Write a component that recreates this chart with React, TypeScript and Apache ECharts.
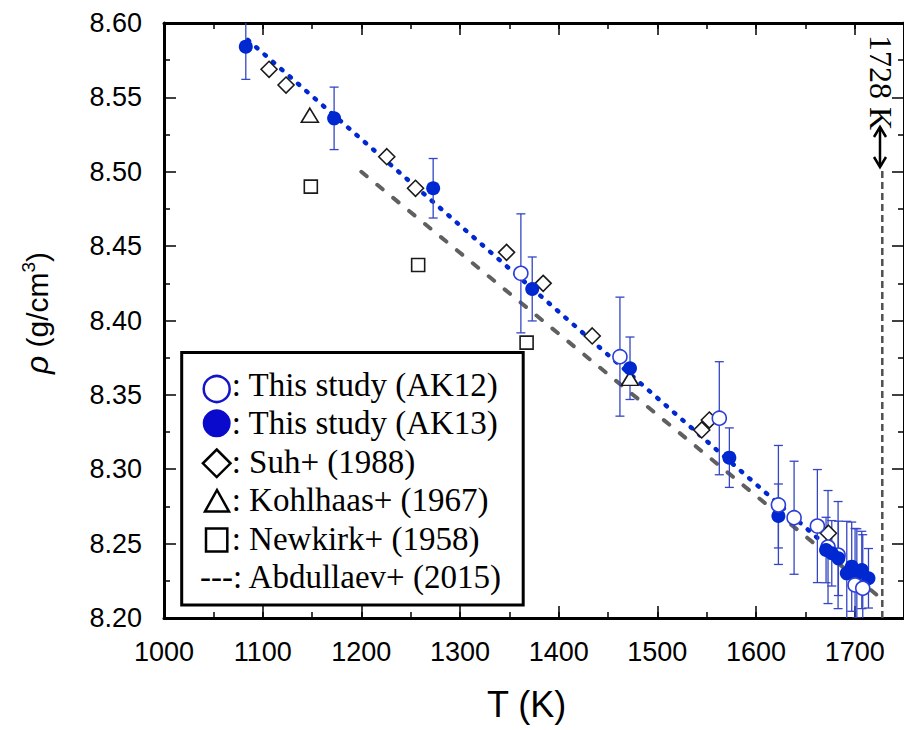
import React, { useEffect, useRef } from 'react';
import * as echarts from 'echarts';

// ---- axis ranges ----
const xMin = 1000;
const xMax = 1750;
const xMajor = 100;
const xMinor = 50;
const yMin = 8.2;
const yMax = 8.6;
const yMajor = 0.05;

// ---- This study (AK12), open circles ----
const ak12T = [1361.7, 1462.1, 1562.8, 1622.7, 1638.6, 1662.2, 1673.0, 1683.2, 1700.4, 1708.2];
const ak12Rho = [8.4317, 8.3757, 8.3343, 8.2760, 8.2674, 8.2618, 8.2477, 8.2423, 8.2222, 8.2200];
const ak12Err = [0.040, 0.040, 0.038, 0.040, 0.038, 0.038, 0.038, 0.036, 0.038, 0.036];
// points of AK12 that lie underneath AK13 markers in the picture
const ak12Behind = [6, 7];

// ---- This study (AK13), filled circles ----
const ak13T = [1082.9, 1172.4, 1272.8, 1373.2, 1472.3, 1573.0, 1622.7, 1671.0, 1676.8, 1683.5, 1692.0, 1697.0, 1702.2, 1707.2, 1714.0];
const ak13Rho = [8.5841, 8.5359, 8.4889, 8.4212, 8.3679, 8.3078, 8.2686, 8.2457, 8.2435, 8.2401, 8.2300, 8.2345, 8.2300, 8.2323, 8.2267];
const ak13Err = [0.022, 0.021, 0.020, 0.0215, 0.021, 0.020, 0.0215, 0.022, 0.022, 0.025, 0.035, 0.030, 0.030, 0.026, 0.020];

// ---- Suh+ (1988), diamonds ----
const suhT = [1106.5, 1123.7, 1225.8, 1254.9, 1347.2, 1384.3, 1434.0, 1545.0, 1552.7, 1673.4];
const suhRho = [8.5689, 8.5583, 8.5101, 8.4889, 8.4458, 8.4250, 8.3896, 8.3264, 8.3331, 8.2570];

// ---- Kohlhaas+ (1967), triangles ----
const kohlT = [1147.8, 1472.3];
const kohlRho = [8.538, 8.3611];

// ---- Newkirk+ (1958), squares ----
const newkT = [1148.8, 1257.6, 1367.5];
const newkRho = [8.490, 8.4373, 8.3851];

// ---- fit line of this study (dotted) ----
const fitT = [1085, 1718];
const fitRho = [8.5886, 8.2215];

// ---- Abdullaev+ (2015), dashed ----
const abdT = [1200, 1728];
const abdRho = [8.500, 8.2125];

// ---- melting point marker ----
const meltT = 1728;
const meltRho = [8.2, 8.501];

const legendLabels = [
  ': This study (AK12)',
  ': This study (AK13)',
  ': Suh+ (1988)',
  ': Kohlhaas+ (1967)',
  ': Newkirk+ (1958)',
  '---: Abdullaev+ (2015)',
];

const BLUE = '#0028d0';
const ERR = '#3446c4';

const zip = (a: number[], b: number[]) => a.map((v, i) => [v, b[i]]);
const zip3 = (a: number[], b: number[], c: number[]) => a.map((v, i) => [v, b[i], c[i]]);

export default function App() {
  const ref = useRef<HTMLDivElement>(null);
  useEffect(() => {
    if (!ref.current) return;
    const chart = echarts.init(ref.current, null, { renderer: 'svg' });

    const errRender = (params: any, api: any) => {
      const x = api.value(0);
      const y = api.value(1);
      const e = api.value(2);
      const top = api.coord([x, y + e]);
      const bot = api.coord([x, y - e]);
      const hw = 4.5;
      const st = { stroke: ERR, lineWidth: 1.3 };
      return {
        type: 'group',
        children: [
          { type: 'line', shape: { x1: top[0], y1: top[1], x2: bot[0], y2: bot[1] }, style: st },
          { type: 'line', shape: { x1: top[0] - hw, y1: top[1], x2: top[0] + hw, y2: top[1] }, style: st },
          { type: 'line', shape: { x1: bot[0] - hw, y1: bot[1], x2: bot[0] + hw, y2: bot[1] }, style: st },
        ],
      };
    };

    const axisLine = { show: true, onZero: false, lineStyle: { color: '#000', width: 3 } };
    const tickStyle = { color: '#000', width: 1.5 };
    const xBase = { type: 'value', min: xMin, max: xMax, splitLine: { show: false } };
    const yBase = { type: 'value', min: yMin, max: yMax, interval: yMajor, splitLine: { show: false } };

    const serif = 'Liberation Serif';
    const legendRows = [385, 422.5, 461.5, 500, 538.5, 577];
    const openStyle = { color: '#fff', borderColor: '#2b3fd8', borderWidth: 1.6, opacity: 1 };
    const blackOpen = { color: '#fff', borderColor: '#1a1a1a', borderWidth: 1.6, opacity: 1 };

    const ak12All = zip(ak12T, ak12Rho);
    const ak12Front = ak12All.filter((_, i) => ak12Behind.indexOf(i) < 0);
    const ak12Back = ak12All.filter((_, i) => ak12Behind.indexOf(i) >= 0);

    const option: any = {
      animation: false,
      backgroundColor: '#fff',
      grid: { left: 164, right: 0, top: 23, bottom: 112, containLabel: false },
      xAxis: [
        {
          ...xBase, position: 'bottom', interval: xMajor, axisLine,
          axisTick: { inside: true, length: 12, lineStyle: tickStyle },
          axisLabel: {
            fontSize: 27, color: '#000', fontFamily: 'Liberation Sans', margin: 20,
            showMaxLabel: false,
            formatter: (v: number) => (v % 100 === 0 ? String(v) : ''),
          },
        },
        {
          ...xBase, position: 'bottom', interval: xMinor, axisLine: { show: false, onZero: false },
          axisTick: { inside: true, length: 6, lineStyle: tickStyle }, axisLabel: { show: false },
        },
        {
          ...xBase, position: 'top', interval: xMajor, axisLine,
          axisTick: { inside: true, length: 12, lineStyle: tickStyle }, axisLabel: { show: false },
        },
        {
          ...xBase, position: 'top', interval: xMinor, axisLine: { show: false, onZero: false },
          axisTick: { inside: true, length: 6, lineStyle: tickStyle }, axisLabel: { show: false },
        },
      ],
      yAxis: [
        {
          ...yBase, position: 'left', axisLine,
          axisTick: { inside: true, length: 12, lineStyle: tickStyle },
          minorTick: { show: true, splitNumber: 2, length: 6, lineStyle: tickStyle },
          axisLabel: {
            fontSize: 27, color: '#000', fontFamily: 'Liberation Sans', margin: 22,
            formatter: (v: number) => v.toFixed(2),
          },
        },
        {
          ...yBase, position: 'right', axisLine,
          axisTick: { inside: true, length: 12, lineStyle: tickStyle },
          minorTick: { show: true, splitNumber: 2, length: 6, lineStyle: tickStyle },
          axisLabel: { show: false },
        },
      ],
      series: [
        {
          type: 'line', data: zip(abdT, abdRho), symbol: 'none', z: 2,
          lineStyle: { color: '#606060', width: 4, type: [7, 13.6], cap: 'round' },
        },
        {
          type: 'line', data: [[meltT, meltRho[0]], [meltT, meltRho[1]]], symbol: 'none', z: 2,
          lineStyle: { color: '#505050', width: 2.5, type: [7, 4] },
        },
        {
          type: 'line', data: zip(fitT, fitRho), symbol: 'none', z: 3,
          lineStyle: { color: BLUE, width: 4.5, type: [1.5, 9.6], cap: 'round' },
        },
        { type: 'custom', data: zip3(ak13T, ak13Rho, ak13Err), renderItem: errRender, clip: true, z: 4, encode: { x: 0, y: 1 } },
        { type: 'custom', data: zip3(ak12T, ak12Rho, ak12Err), renderItem: errRender, clip: true, z: 4, encode: { x: 0, y: 1 } },
        {
          type: 'scatter', data: zip(newkT, newkRho), symbol: 'rect', symbolSize: 13, z: 5,
          itemStyle: blackOpen,
        },
        {
          type: 'scatter', data: zip(kohlT, kohlRho), symbol: 'triangle', symbolSize: [17, 14], z: 5,
          itemStyle: blackOpen,
        },
        {
          type: 'scatter', data: zip(suhT, suhRho), symbol: 'diamond', symbolSize: [16, 16], z: 5,
          itemStyle: blackOpen,
        },
        {
          type: 'scatter', data: ak12Back, symbol: 'circle', symbolSize: 14, z: 5,
          itemStyle: openStyle,
        },
        {
          type: 'scatter', data: zip(ak13T, ak13Rho), symbol: 'circle', symbolSize: 14, z: 6,
          itemStyle: { color: BLUE, opacity: 1 },
        },
        {
          type: 'scatter', data: ak12Front, symbol: 'circle', symbolSize: 14, z: 7,
          itemStyle: openStyle,
        },
      ],
      graphic: [
        // legend box
        { type: 'rect', z: 100, shape: { x: 181.7, y: 352.5, width: 341.5, height: 252.5 }, style: { fill: '#fff', stroke: '#000', lineWidth: 3 } },
        { type: 'circle', z: 101, shape: { cx: 216.7, cy: 389, r: 13 }, style: { fill: '#fff', stroke: '#1414c8', lineWidth: 2.5 } },
        { type: 'circle', z: 101, shape: { cx: 216.7, cy: 423.3, r: 14 }, style: { fill: '#0a0acc' } },
        { type: 'polygon', z: 101, shape: { points: [[216.7, 449.5], [230.5, 463.3], [216.7, 477.1], [202.9, 463.3]] }, style: { fill: '#fff', stroke: '#000', lineWidth: 2.5 } },
        { type: 'polygon', z: 101, shape: { points: [[217, 490], [229, 511.5], [205, 511.5]] }, style: { fill: '#fff', stroke: '#000', lineWidth: 2.5 } },
        { type: 'rect', z: 101, shape: { x: 206, y: 528.5, width: 21.3, height: 23 }, style: { fill: '#fff', stroke: '#000', lineWidth: 2.5 } },
        ...legendLabels.map((t, i) => ({
          type: 'text', z: 101, x: i === 5 ? 200 : 231.7, y: legendRows[i],
          style: { text: t, fill: '#000', font: `33px "${serif}"`, align: 'left', verticalAlign: 'middle' },
        })),
        // melting point annotation
        {
          type: 'text', z: 101, x: 881, y: 82.5, rotation: -Math.PI / 2,
          style: { text: '1728 K', fill: '#000', font: `32px "${serif}"`, align: 'center', verticalAlign: 'middle' },
        },
        { type: 'line', z: 101, shape: { x1: 880, y1: 127, x2: 880, y2: 167 }, style: { stroke: '#000', lineWidth: 2.5 } },
        { type: 'polyline', z: 101, shape: { points: [[874, 137], [880, 127], [886, 137]] }, style: { stroke: '#000', lineWidth: 2.5, fill: null } },
        { type: 'polyline', z: 101, shape: { points: [[874, 157], [880, 167], [886, 157]] }, style: { stroke: '#000', lineWidth: 2.5, fill: null } },
        // axis titles
        {
          type: 'text', z: 101, x: 526.7, y: 704,
          style: { text: 'T (K)', fill: '#000', font: '36px "Liberation Sans"', align: 'center', verticalAlign: 'middle' },
        },
        {
          type: 'text', z: 101, x: 37, y: 313, rotation: Math.PI / 2,
          style: {
            text: '{i|ρ}{n| (g/cm}{s|3}{n|)}',
            align: 'center', verticalAlign: 'middle',
            rich: {
              i: { fontSize: 32, fontStyle: 'italic', fontFamily: 'Liberation Sans', fill: '#000', lineHeight: 36 },
              n: { fontSize: 30, fontFamily: 'Liberation Sans', fill: '#000', lineHeight: 36 },
              s: { fontSize: 19, fontFamily: 'Liberation Sans', fill: '#000', lineHeight: 19, verticalAlign: 'top' },
            },
          },
        },
      ],
    };
    chart.setOption(option);
    return () => chart.dispose();
  }, []);
  return <div ref={ref} style={{ position: 'fixed', left: 0, top: 0, width: 904, height: 730 }} />;
}
